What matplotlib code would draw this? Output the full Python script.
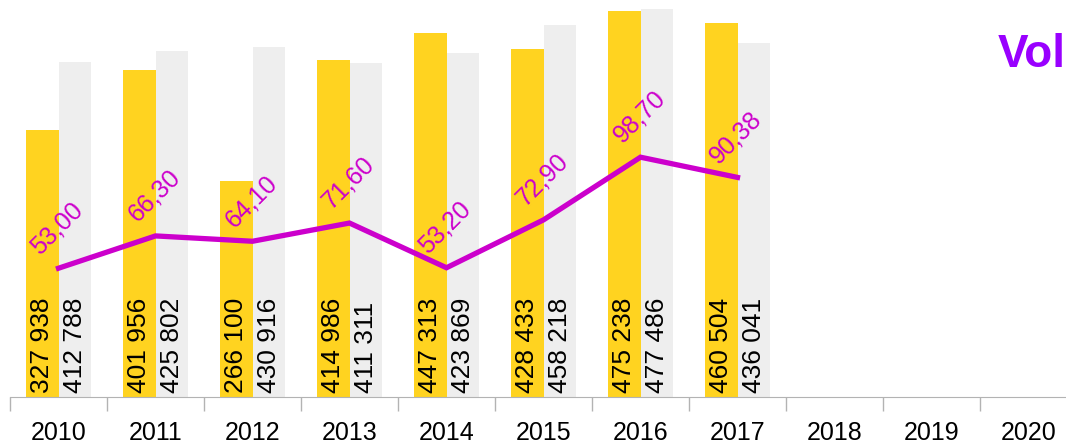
import numpy as np
import matplotlib
matplotlib.use('Agg')
import matplotlib.pyplot as plt

plt.rcParams['font.family'] = ['Liberation Sans', 'DejaVu Sans']

years = ['2010', '2011', '2012', '2013', '2014', '2015', '2016', '2017', '2018', '2019', '2020']
yellow_vals = [327938, 401956, 266100, 414986, 447313, 428433, 475238, 460504]
gray_vals = [412788, 425802, 430916, 411311, 423869, 458218, 477486, 436041]
line_vals = [53.00, 66.30, 64.10, 71.60, 53.20, 72.90, 98.70, 90.38]

yellow = '#ffd320'
gray = '#eeeeee'
magenta = '#cc00cc'

def fmt_thousands(v):
    return '{:,}'.format(v).replace(',', ' ')

fig = plt.figure(figsize=(10.66, 4.45), dpi=100)
ax = fig.add_axes([10 / 1066, 48 / 445, 1067 / 1066, 397 / 445])

x = np.arange(len(yellow_vals))
w = 0.34
ax.bar(x - w / 2, yellow_vals, w, color=yellow, zorder=2)
ax.bar(x + w / 2, gray_vals, w, color=gray, zorder=2)

# values written upright inside the bars
for xi, v in zip(x - w / 2, yellow_vals):
    ax.annotate(fmt_thousands(v), (xi, 0), xytext=(0, 3), textcoords='offset points',
                rotation=90, ha='center', va='bottom', fontsize=19, color='black', zorder=5)
for xi, v in zip(x + w / 2, gray_vals):
    ax.annotate(fmt_thousands(v), (xi, 0), xytext=(0, 3), textcoords='offset points',
                rotation=90, ha='center', va='bottom', fontsize=19, color='black', zorder=5)

ax.set_xlim(-0.5, len(years) - 0.5)
ax.set_ylim(0, 488500)
ax.set_xticks(np.arange(len(years)))
ax.set_xticklabels(years, fontsize=18)
ax.set_xticks(np.arange(len(years) + 1) - 0.5, minor=True)
ax.tick_params(axis='x', which='major', length=0, pad=17)
ax.tick_params(axis='x', which='minor', length=10, color='#b3b3b3', width=1)
ax.set_yticks([])
for s in ['left', 'right', 'top']:
    ax.spines[s].set_visible(False)
ax.spines['bottom'].set_color('#b3b3b3')

# secondary axis for the line
ax2 = ax.twinx()
ax2.set_position(ax.get_position())
ax2.plot(x, line_vals, color=magenta, linewidth=3.8, zorder=4, solid_joinstyle='miter')
for xi, v in zip(x, line_vals):
    ax2.annotate('{:.2f}'.format(v).replace('.', ','), (xi, v), xytext=(-1, 29),
                 textcoords='offset points', rotation=45, ha='center', va='center',
                 fontsize=18, color=magenta)
ax2.set_ylim(0, 163.4)
ax2.set_yticks([])
for s in ax2.spines.values():
    s.set_visible(False)

fig.text(998 / 1066, 1 - 67 / 445, 'Vol', fontsize=33, fontweight='bold',
         color='#9900ff', ha='left', va='baseline')

fig.savefig('out.png', dpi=100)
